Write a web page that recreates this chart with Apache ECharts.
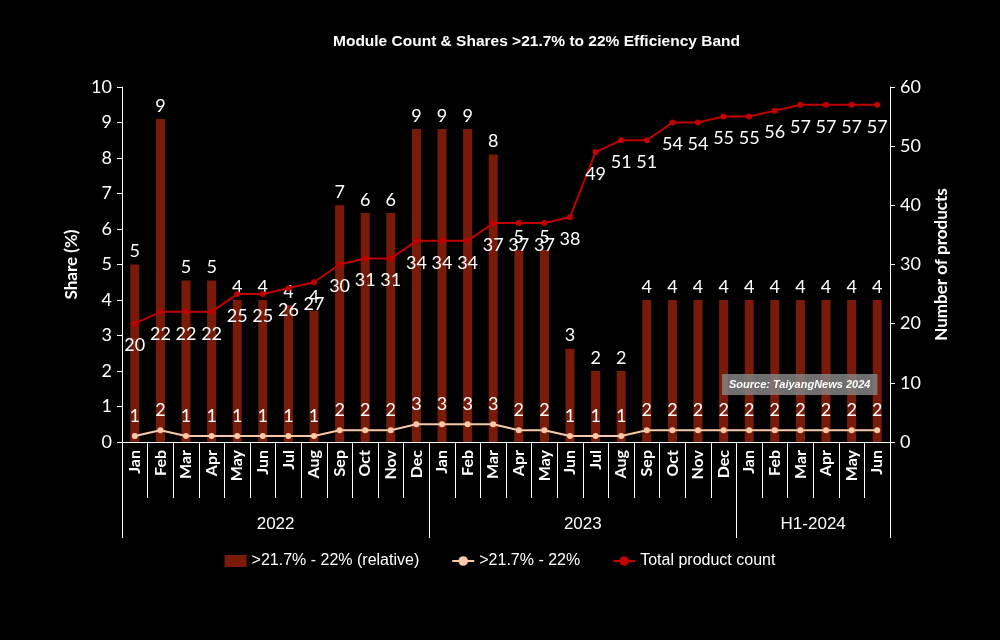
<!DOCTYPE html>
<html>
<head>
<meta charset="utf-8">
<script src="https://cdn.jsdelivr.net/npm/echarts@6/dist/echarts.min.js"></script>
<style>
  html, body { margin: 0; padding: 0; background: #000; }
  #chart_box { width: 1000px; height: 640px; }
</style>
</head>
<body>
<div id="chart_box"></div>
<script>
// months shown on the axis, grouped by period
var months = ['Jan', 'Feb', 'Mar', 'Apr', 'May', 'Jun', 'Jul', 'Aug', 'Sep', 'Oct', 'Nov', 'Dec',
  'Jan', 'Feb', 'Mar', 'Apr', 'May', 'Jun', 'Jul', 'Aug', 'Sep', 'Oct', 'Nov', 'Dec',
  'Jan', 'Feb', 'Mar', 'Apr', 'May', 'Jun']
var periods = ['2022', '2023', 'H1-2024']
var periodBounds = [0, 12, 24, 30]
var periodMids = [6, 18, 27]

// share of band in all products (%)
var shareValues = [5.0, 9.1, 4.55, 4.55, 4.0, 4.0, 3.85, 3.7, 6.67, 6.45, 6.45, 8.82,
  8.82, 8.82, 8.1, 5.41, 5.41, 2.63, 2.0, 2.0, 4.0, 4.0, 4.0, 4.0,
  4.0, 4.0, 4.0, 4.0, 4.0, 4.0]
// module count in band
var bandCount = [1, 2, 1, 1, 1, 1, 1, 1, 2, 2, 2, 3,
  3, 3, 3, 2, 2, 1, 1, 1, 2, 2, 2, 2,
  2, 2, 2, 2, 2, 2]
// total product count
var totalCount = [20, 22, 22, 22, 25, 25, 26, 27, 30, 31, 31, 34,
  34, 34, 37, 37, 37, 38, 49, 51, 51, 54, 54, 55,
  55, 56, 57, 57, 57, 57]

var chart = echarts.init(document.getElementById('chart_box'))
var labelFont = 'Lato, "Open Sans", sans-serif'
var narrowFont = '"Liberation Sans Narrow", "Arial Narrow", "Liberation Sans", sans-serif'

var option = {
  backgroundColor: '#000',
  animation: false,
  title: {
    text: 'Module Count & Shares >21.7% to 22% Efficiency Band',
    left: 328,
    top: 29,
    textStyle: { color: '#fff', fontSize: 15.5, fontWeight: 'bold', fontFamily: 'Liberation Sans, Arial, sans-serif' }
  },
  grid: { left: 122, right: 110, top: 87, bottom: 198 },
  legend: {
    bottom: 66,
    left: 'center',
    itemGap: 32,
    itemWidth: 22,
    itemHeight: 12,
    textStyle: { color: '#fff', fontSize: 16, fontFamily: narrowFont },
    data: [
      { name: '>21.7% - 22% (relative)', icon: 'rect', itemStyle: { color: '#7a1a08' } },
      { name: '>21.7% - 22%' },
      { name: 'Total product count' }
    ]
  },
  xAxis: [
    {
      type: 'category',
      data: months,
      axisLine: { lineStyle: { color: '#fff', width: 1 } },
      axisTick: { show: true, length: 56, interval: 0, lineStyle: { color: '#fff' } },
      axisLabel: {
        interval: 0,
        rotate: 90,
        margin: 8,
        color: '#fff',
        fontSize: 16,
        fontWeight: 'bold',
        fontFamily: labelFont
      }
    },
    {
      type: 'value',
      min: 0,
      max: 30,
      position: 'bottom',
      axisLine: { show: false },
      splitLine: { show: false },
      axisTick: {
        show: true,
        length: 96,
        customValues: periodBounds,
        lineStyle: { color: '#fff' }
      },
      axisLabel: {
        margin: 74,
        color: '#fff',
        fontSize: 17,
        fontFamily: narrowFont,
        customValues: periodMids,
        formatter: function (v) {
          return periods[periodMids.indexOf(v)]
        }
      }
    }
  ],
  yAxis: [
    {
      type: 'value',
      min: 0,
      max: 10,
      interval: 1,
      name: 'Share (%)',
      nameLocation: 'middle',
      nameRotate: 90,
      nameGap: 40,
      nameTextStyle: { color: '#fff', fontSize: 17, fontWeight: 'bold', fontFamily: labelFont },
      axisLine: { show: true, lineStyle: { color: '#fff' } },
      axisTick: { show: true, length: 5, lineStyle: { color: '#fff' } },
      splitLine: { show: false },
      axisLabel: { color: '#fff', fontSize: 18, margin: 10, fontFamily: labelFont }
    },
    {
      type: 'value',
      min: 0,
      max: 60,
      interval: 10,
      name: 'Number of products',
      nameLocation: 'middle',
      nameRotate: 90,
      nameGap: 43,
      nameTextStyle: { color: '#fff', fontSize: 17, fontWeight: 'bold', fontFamily: labelFont },
      axisLine: { show: true, lineStyle: { color: '#fff' } },
      axisTick: { show: true, length: 5, lineStyle: { color: '#fff' } },
      splitLine: { show: false },
      axisLabel: { color: '#fff', fontSize: 18, margin: 10, fontFamily: labelFont }
    }
  ],
  series: [
    {
      name: '>21.7% - 22% (relative)',
      type: 'bar',
      xAxisIndex: 0,
      yAxisIndex: 0,
      barWidth: 9,
      data: shareValues,
      itemStyle: { color: '#7a1a08' },
      label: {
        show: true,
        position: 'top',
        distance: 4,
        color: '#fff',
        fontSize: 18,
        fontFamily: labelFont,
        formatter: function (p) { return Math.round(p.value) }
      }
    },
    {
      name: '>21.7% - 22%',
      type: 'line',
      xAxisIndex: 0,
      yAxisIndex: 1,
      data: bandCount,
      symbol: 'circle',
      symbolSize: 6,
      lineStyle: { color: '#f7c9a8', width: 2 },
      itemStyle: { color: '#f7c9a8' },
      label: {
        show: true,
        position: 'top',
        distance: 8,
        color: '#fff',
        fontSize: 18,
        fontFamily: labelFont
      }
    },
    {
      name: 'Total product count',
      type: 'line',
      xAxisIndex: 0,
      yAxisIndex: 1,
      data: totalCount,
      symbol: 'circle',
      symbolSize: 6,
      lineStyle: { color: '#c00000', width: 2 },
      itemStyle: { color: '#c00000' },
      label: {
        show: true,
        position: 'bottom',
        distance: 10,
        color: '#fff',
        fontSize: 18,
        fontFamily: labelFont
      }
    }
  ],
  graphic: [
    {
      type: 'text',
      left: 722,
      top: 374,
      z: 100,
      style: {
        text: 'Source: TaiyangNews 2024',
        fill: '#fff',
        font: 'italic bold 11px "Liberation Sans", Arial, sans-serif',
        backgroundColor: 'rgba(130,130,130,0.85)',
        padding: [5, 7, 5, 7]
      }
    }
  ]
}

chart.setOption(option)
</script>
</body>
</html>
